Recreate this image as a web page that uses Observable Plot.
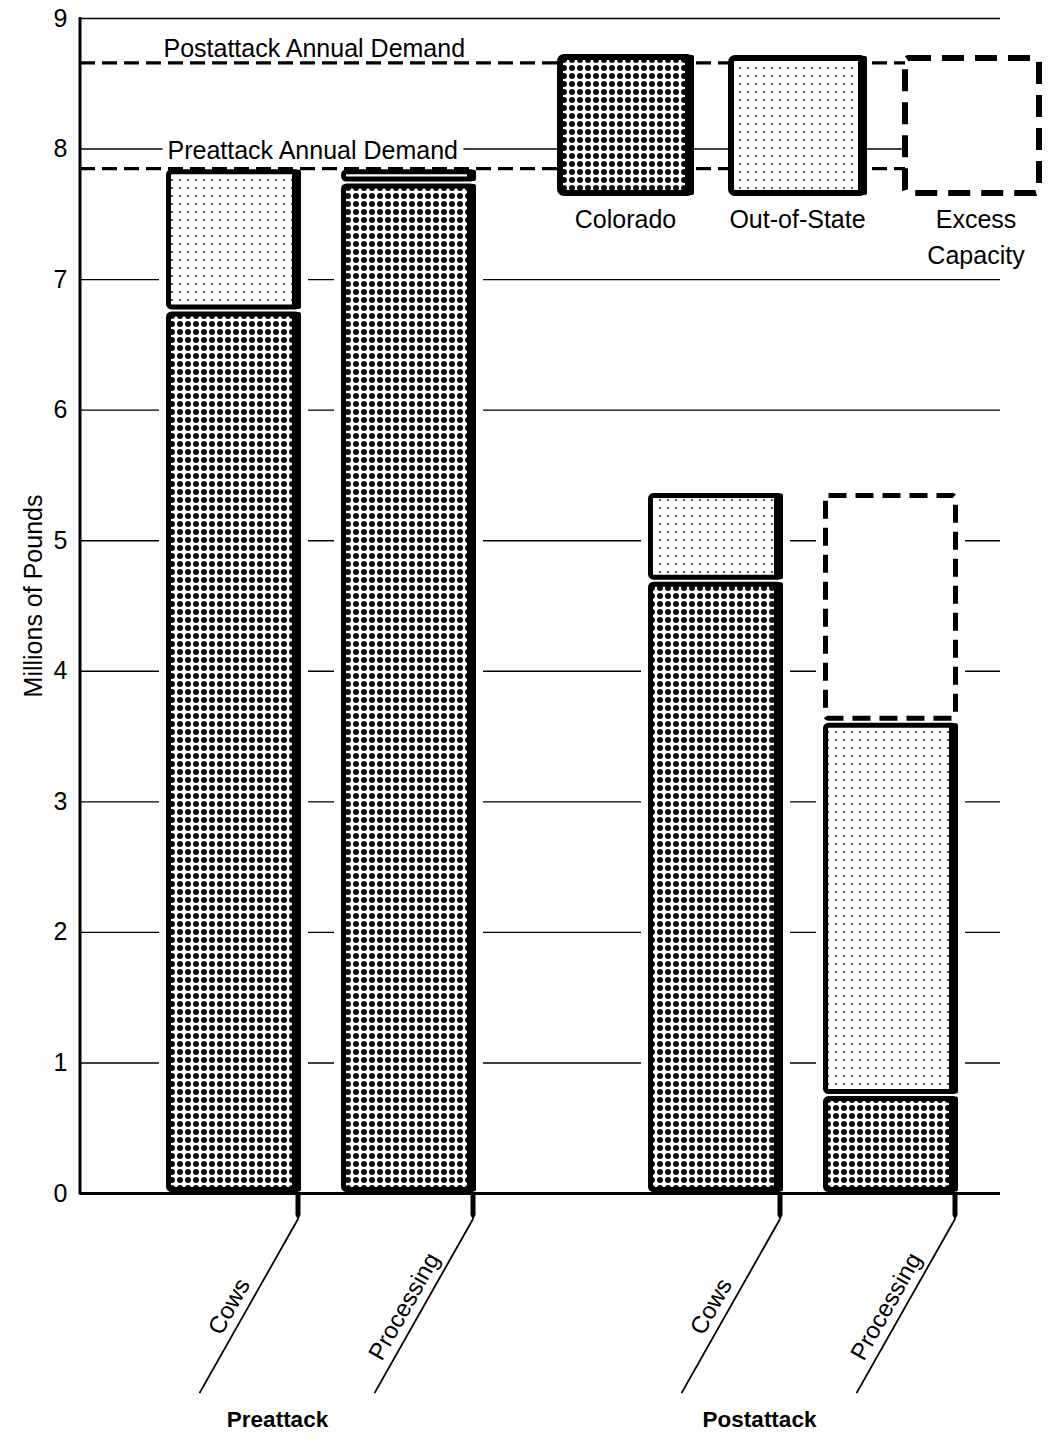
<!DOCTYPE html>
<html>
<head>
<meta charset="utf-8">
<script src="https://cdn.jsdelivr.net/npm/d3@7"></script>
<script src="https://cdn.jsdelivr.net/npm/@observablehq/plot@0.6"></script>
<style>
  body { margin: 0; background: #ffffff; }
  #chart { position: relative; width: 1048px; height: 1444px; font-family: "Liberation Sans", Arial, sans-serif; }
  #legend { position: absolute; left: 0; top: 0; }
</style>
</head>
<body>
<svg width="0" height="0" style="position:absolute">
  <defs>
    <pattern id="pat-colorado" width="8" height="8" patternUnits="userSpaceOnUse">
      <rect width="8" height="8" fill="#ffffff"></rect>
      <circle cx="4" cy="4" r="3.0" fill="#111"></circle>
    </pattern>
    <pattern id="pat-oos" width="8" height="8" patternUnits="userSpaceOnUse">
      <rect width="8" height="8" fill="#ffffff"></rect>
      <circle cx="4" cy="4" r="1.0" fill="#222"></circle>
    </pattern>
  </defs>
</svg>
<div id="chart"></div>
<script>
// ---------- data ----------
const groupNames = ["Preattack", "Postattack"];
const groups = ["Preattack", "Preattack", "Postattack", "Postattack"];
const uses = ["Cows", "Processing", "Cows", "Processing"];
const colorado = [6.76, 7.74, 4.69, 0.75];
const outOfState = [1.09, 0.11, 0.68, 2.86];
const excessCapacity = [0, 0, 0, 1.76];
const demandNames = ["Postattack Annual Demand", "Preattack Annual Demand"];
const demandValues = [8.66, 7.85];
const yTicks = [0, 1, 2, 3, 4, 5, 6, 7, 8, 9];
const sources = ["Colorado", "Out-of-State", "Excess Capacity"];
const yTitle = "Millions of Pounds";

// ---------- derived tables ----------
const sourceValues = [colorado, outOfState, excessCapacity];
const segs = [];
groups.forEach((g, i) => {
  let acc = 0;
  sources.forEach((s, k) => {
    const v = sourceValues[k][i];
    if (v > 0) {
      segs.push({group: g, use: uses[i], source: s, y1: acc, y2: acc + v});
      acc += v;
    }
  });
});
const bars = groups.map((g, i) => ({
  group: g, use: uses[i],
  total: colorado[i] + outOfState[i] + excessCapacity[i]
}));
const demands = demandNames.map((n, i) => ({name: n, value: demandValues[i]}));

// ---------- styles ----------
const FONT = "'Liberation Sans', Arial, sans-serif";
const sourceStyle = {
  "Colorado": {fill: "url(#pat-colorado)"},
  "Out-of-State": {fill: "url(#pat-oos)"},
  "Excess Capacity": {fill: "#ffffff", strokeDasharray: "18,9"}
};
// inset per use within the group band (band width ~310px, bar ~135px)
const useInset = {
  "Cows": {insetLeft: 2.5, insetRight: 177.5},
  "Processing": {insetLeft: 177.5, insetRight: 2.5}
};
const haloInset = {
  "Cows": {insetLeft: -7, insetRight: 168},
  "Processing": {insetLeft: 168, insetRight: -7}
};
const stripInset = {
  "Cows": {insetLeft: 126, insetRight: 175},
  "Processing": {insetLeft: 301, insetRight: 0}
};

const barMarks = [];
for (const u of ["Cows", "Processing"]) {
  barMarks.push(Plot.barY(bars.filter(d => d.use === u), {
    x: "group", y1: 0, y2: "total", fill: "#ffffff", ...haloInset[u]
  }));
}
for (const u of ["Cows", "Processing"]) {
  for (const s of sources) {
    const data = segs.filter(d => d.use === u && d.source === s);
    if (!data.length) continue;
    barMarks.push(Plot.barY(data, {
      x: "group", y1: "y1", y2: "y2",
      stroke: "#000", strokeWidth: 5, rx: 3,
      insetTop: 3.5, insetBottom: 3.5,
      ...useInset[u], ...sourceStyle[s]
    }));
    if (s !== "Excess Capacity") {
      barMarks.push(Plot.barY(data, {
        x: "group", y1: "y1", y2: "y2", fill: "#000", rx: 2,
        insetTop: 1.5, insetBottom: 1.5, ...stripInset[u]
      }));
    }
  }
}

// custom mark: y axis line
function axisLine(index, scales, values, dims) {
  const g = d3.create("svg:g");
  g.append("line")
    .attr("x1", dims.marginLeft).attr("x2", dims.marginLeft)
    .attr("y1", scales.y(9) - 1).attr("y2", scales.y(0) + 1.5)
    .attr("stroke", "#000").attr("stroke-width", 3);
  return g.node();
}

// custom mark: slanted category ticks & labels
function xDecor(index, scales, values, dims) {
  const x = scales.x, y = scales.y;
  const bw = x.bandwidth();
  const y0 = y(0);
  const g = d3.create("svg:g");
  const ang = 60.5 * Math.PI / 180, len = 200;
  bars.forEach(b => {
    const right = x(b.group) + (b.use === "Cows" ? bw - 175 : bw) - 3;
    const tickEnd = y0 + 26;
    g.append("path")
      .attr("d", `M${right - 2.5},${y0}L${right + 2.5},${y0}L${right + 2.5},${tickEnd - 4}L${right},${tickEnd + 1}L${right - 2.5},${tickEnd - 4}Z`)
      .attr("fill", "#000");
    const x2 = right - len * Math.cos(ang), y2 = tickEnd + len * Math.sin(ang);
    g.append("line")
      .attr("x1", right).attr("y1", tickEnd)
      .attr("x2", x2).attr("y2", y2)
      .attr("stroke", "#000").attr("stroke-width", 1.8);
    const t = 0.55;
    const px = right + (x2 - right) * t, py = tickEnd + (y2 - tickEnd) * t;
    g.append("text")
      .attr("transform", `translate(${px},${py}) rotate(-60.5)`)
      .attr("text-anchor", "middle")
      .attr("dy", -9)
      .attr("font-family", FONT)
      .attr("font-size", 24)
      .attr("fill", "#000")
      .text(b.use);
  });
  return g.node();
}

const plot = Plot.plot({
  width: 1048,
  height: 1444,
  marginLeft: 80,
  marginRight: 48,
  marginTop: 18,
  marginBottom: 251,
  style: {fontFamily: FONT, fontSize: "23px", background: "transparent", color: "#000", overflow: "visible"},
  x: {domain: groupNames, paddingInner: 0.3575, paddingOuter: 0.1321, align: 0.667, axis: null},
  y: {domain: [0, 9], axis: null},
  marks: [
    Plot.gridY({ticks: yTicks, stroke: "#000", strokeOpacity: 1, strokeWidth: 1.4}),
    Plot.text(demands.filter((d, i) => i === 1), {
      y: "value", text: "name", frameAnchor: "left", textAnchor: "start",
      dx: 87, dy: -18, fontSize: 25, fill: "#000", stroke: "#ffffff", strokeWidth: 14
    }),
    Plot.text(demands.filter((d, i) => i === 0), {
      y: "value", text: "name", frameAnchor: "left", textAnchor: "start",
      dx: 83, dy: -14, fontSize: 25, fill: "#000"
    }),
    ...barMarks,
    Plot.ruleY([0], {stroke: "#000", strokeWidth: 3}),
    Plot.ruleY(demands, {y: "value", stroke: "#000", strokeWidth: 3.2, strokeDasharray: "15,7"}),
    axisLine,
    Plot.text(yTicks, {y: d => d, text: d => String(d), frameAnchor: "left", textAnchor: "end", dx: -13, fontSize: 25, fill: "#000"}),
    Plot.text([yTitle], {frameAnchor: "left", textAnchor: "middle", rotate: -90, dx: -47, dy: -10, fontSize: 25, fill: "#000"}),
    xDecor,
    Plot.text(groupNames, {x: d => d, text: d => d, frameAnchor: "bottom", dx: -44, dy: 233, fontSize: 22.5, fontWeight: "bold", fill: "#000"})
  ]
});

const chart = document.getElementById("chart");
chart.append(plot);

// ---------- legend (overlay inside the plot area, as in the original) ----------
const legendBoxes = [
  {name: sources[0], x: 560, y: 57, w: 131, h: 136, lines: ["Colorado"]},
  {name: sources[1], x: 731, y: 58, w: 133, h: 135, lines: ["Out-of-State"]},
  {name: sources[2], x: 905, y: 58, w: 134, h: 135, lines: ["Excess", "Capacity"]}
];
const leg = d3.create("svg").attr("id", "legend").attr("width", 1048).attr("height", 280)
  .attr("font-family", FONT);
legendBoxes.forEach(b => {
  const st = sourceStyle[b.name];
  leg.append("rect").attr("x", b.x).attr("y", b.y).attr("width", b.w).attr("height", b.h)
    .attr("rx", 4).attr("fill", st.fill).attr("stroke", "#000").attr("stroke-width", 6)
    .attr("stroke-dasharray", st.strokeDasharray ? "22,11" : null);
  if (!st.strokeDasharray) {
    leg.append("rect").attr("x", b.x + b.w - 6).attr("y", b.y - 2).attr("width", 9).attr("height", b.h + 4)
      .attr("rx", 2).attr("fill", "#000");
  }
  b.lines.forEach((ln, k) => {
    leg.append("text").attr("x", b.x + b.w / 2 + (b.lines.length > 1 ? 4 : 0)).attr("y", 228 + k * 36)
      .attr("text-anchor", "middle").attr("font-size", 25).attr("fill", "#000").text(ln);
  });
});
chart.append(leg.node());
</script>
</body>
</html>
